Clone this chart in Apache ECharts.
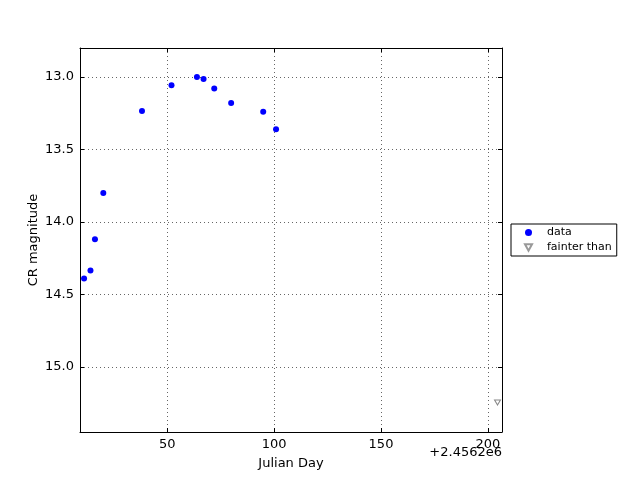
<!DOCTYPE html>
<html><head><meta charset="utf-8">
<script src="https://cdn.jsdelivr.net/npm/echarts@6/dist/echarts.min.js"></script>
<style>html,body{margin:0;padding:0;background:#fff}#c{width:640px;height:480px}</style>
</head><body><div id="c"></div>
<script>
const dataDays = [11.1, 14.1, 16.2, 20.1, 38.2, 52.0, 63.9, 67.0, 72.0, 79.9, 94.9, 100.9];
const dataMags = [14.39, 14.336, 14.12, 13.80, 13.234, 13.057, 13.0, 13.014, 13.08, 13.18, 13.24, 13.36];
const fainterDays = [204.5];
const fainterMags = [15.246];
const xTicks = [50, 100, 150, 200];
const yTicks = [13.0, 13.5, 14.0, 14.5, 15.0];
const xOffsetLabel = '+2.4562e6';
const yName = 'CR magnitude';

const font = 'DejaVu Sans';
const chart = echarts.init(document.getElementById('c'), null, {renderer: 'canvas'});
const tri = 'path://M0,0 L10,0 L5,9 Z';
const xMin = 9.2, xMax = 206.6, yMin = 12.8, yMax = 15.45;
const axisCommon = {
  axisLine: {show: true, onZero: false, lineStyle: {color: '#000', width: 1}},
};
chart.setOption({
  animation: false,
  textStyle: {fontFamily: font},
  grid: {left: 80, top: 48, width: 422, height: 384, containLabel: false},
  xAxis: [{
    type: 'value', min: xMin, max: xMax, position: 'bottom',
    ...axisCommon,
    axisTick: {show: true, inside: true, length: 4, lineStyle: {color: '#000'}, customValues: xTicks},
    axisLabel: {customValues: xTicks, color: '#000', fontSize: 13, fontFamily: font, margin: 6},
    splitLine: {show: true, lineStyle: {color: '#666', type: [1, 3], width: 1}},
    name: 'Julian Day', nameLocation: 'middle', nameGap: 25,
    nameTextStyle: {color: '#000', fontSize: 13, fontFamily: font}
  }, {
    type: 'value', min: xMin, max: xMax, position: 'top',
    ...axisCommon,
    axisTick: {show: true, inside: true, length: 4, lineStyle: {color: '#000'}, customValues: xTicks},
    axisLabel: {show: false, customValues: xTicks},
    splitLine: {show: false}
  }],
  yAxis: [{
    type: 'value', min: yMin, max: yMax, inverse: true, position: 'left',
    ...axisCommon,
    axisTick: {show: true, inside: true, length: 4, lineStyle: {color: '#000'}, customValues: yTicks},
    axisLabel: {customValues: yTicks, color: '#000', fontSize: 13, fontFamily: font, margin: 6,
      formatter: v => v.toFixed(1)},
    splitLine: {show: true, lineStyle: {color: '#666', type: [1, 3], width: 1}}
  }, {
    type: 'value', min: yMin, max: yMax, inverse: true, position: 'right',
    ...axisCommon,
    axisTick: {show: true, inside: true, length: 4, lineStyle: {color: '#000'}, customValues: yTicks},
    axisLabel: {show: false, customValues: yTicks},
    splitLine: {show: false}
  }],
  legend: {
    orient: 'vertical', left: 511, top: 224,
    backgroundColor: '#fff', borderColor: '#000', borderWidth: 1, borderRadius: 0,
    padding: [3, 5, 3, 13], itemGap: 4, itemWidth: 7, itemHeight: 7,
    textStyle: {fontSize: 11, fontFamily: font, color: '#000', padding: [0, 0, 0, 10]},
    data: [{name: 'data', icon: 'circle'}, {name: 'fainter than', icon: tri, itemStyle: {borderColor: '#999'}}]
  },
  graphic: [{
    type: 'text', right: 640 - 502, top: 446,
    style: {text: xOffsetLabel, font: '13px "DejaVu Sans"', fill: '#000', textAlign: 'right'}
  }, {
    type: 'text', x: 34, y: 240, rotation: Math.PI / 2,
    style: {text: yName, font: '13px "DejaVu Sans"', fill: '#000', textAlign: 'center', textVerticalAlign: 'middle'}
  }],
  series: [{
    name: 'data', type: 'scatter', symbol: 'circle', symbolSize: 6,
    itemStyle: {color: '#0000ff', opacity: 1},
    data: dataDays.map((d, i) => [d, dataMags[i]])
  }, {
    name: 'fainter than', type: 'scatter', symbol: tri, symbolSize: [6, 5],
    itemStyle: {color: '#fff', borderColor: '#888', borderWidth: 1, opacity: 1},
    data: fainterDays.map((d, i) => [d, fainterMags[i]])
  }]
});
</script></body></html>
